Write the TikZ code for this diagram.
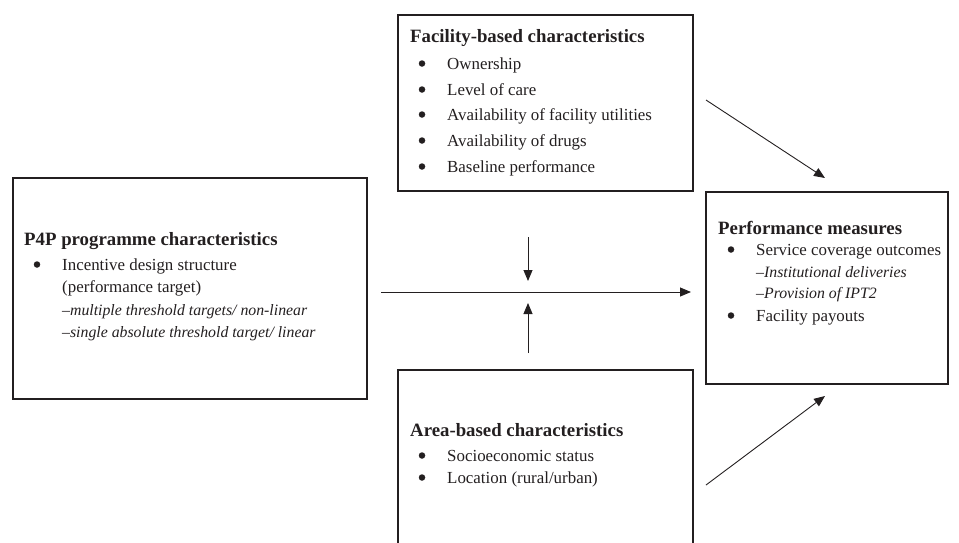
\documentclass[tikz,border=0pt]{standalone}
\usepackage{fontspec}
\setmainfont{Liberation Serif}
\usetikzlibrary{arrows.meta}
\definecolor{ink}{HTML}{231F20}
\tikzset{
  box/.style={draw=ink, line width=1.5pt, inner sep=0pt, anchor=north west},
  ttl/.style={anchor=base west, inner sep=0pt, text=ink, font=\fontsize{18.8}{22}\selectfont\bfseries},
  txt/.style={anchor=base west, inner sep=0pt, text=ink, font=\fontsize{16.9}{20}\selectfont},
  sub/.style={anchor=base west, inner sep=0pt, text=ink, font=\fontsize{15.8}{19}\selectfont\itshape},
  bul/.style={circle, fill=ink, inner sep=0pt, minimum size=6.5pt},
  arr/.style={draw=ink, line width=0.9pt, -{Triangle[length=11pt,width=9pt]}}
}
\begin{document}
\begin{tikzpicture}[x=1pt,y=-1pt]
\useasboundingbox (0,0) rectangle (959,542);
\clip (0,0) rectangle (959,542);
% boxes
\node[box, minimum width=354pt, minimum height=221pt] (p4p) at (12,177) {};
\node[box, minimum width=295pt, minimum height=176pt] (fac) at (397,14) {};
\node[box, minimum width=242pt, minimum height=192pt] (perf) at (705,191) {};
\node[box, minimum width=295pt, minimum height=200pt] (area) at (397,369) {};
% P4P text
\node[ttl] (p4pt) at (24,245) {P4P programme characteristics};
\node[bul] (p4pb1) at (37,264.5) {};
\node[txt] (p4p1) at (62,270) {Incentive design structure};
\node[txt] (p4p2) at (62,292) {(performance target)};
\node[sub] (p4p3) at (62,315) {\textendash multiple threshold targets/ non-linear};
\node[sub] (p4p4) at (62,337) {\textendash single absolute threshold target/ linear};
% Facility text
\node[ttl] (fact) at (410,42) {Facility-based characteristics};
\node[bul] (facb1) at (422,63.5) {};
\node[txt] (fac1) at (447,69) {Ownership};
\node[bul] (facb2) at (422,89.5) {};
\node[txt] (fac2) at (447,95) {Level of care};
\node[bul] (facb3) at (422,114.5) {};
\node[txt] (fac3) at (447,120) {Availability of facility utilities};
\node[bul] (facb4) at (422,140.5) {};
\node[txt] (fac4) at (447,146) {Availability of drugs};
\node[bul] (facb5) at (422,166.5) {};
\node[txt] (fac5) at (447,172) {Baseline performance};
% Performance text
\node[ttl] (perft) at (718,234) {Performance measures};
\node[bul] (perfb1) at (731,249.5) {};
\node[txt] (perf1) at (756,255) {Service coverage outcomes};
\node[sub] (perf2) at (756,277) {\textendash Institutional deliveries};
\node[sub] (perf3) at (756,298) {\textendash Provision of IPT2};
\node[bul] (perfb4) at (731,315.5) {};
\node[txt] (perf4) at (756,321) {Facility payouts};
% Area text
\node[ttl] (areat) at (410,436) {Area-based characteristics};
\node[bul] (areab1) at (422,455.5) {};
\node[txt] (area1) at (447,461) {Socioeconomic status};
\node[bul] (areab2) at (422,477.5) {};
\node[txt] (area2) at (447,483) {Location (rural/urban)};
% connector ends
\coordinate (hs) at (381,292);
\coordinate (he) at (691,292);
\coordinate (ds) at (528,237);
\coordinate (de) at (528,281);
\coordinate (us) at (528,353);
\coordinate (ue) at (528,303);
\coordinate (t1) at (706,100);
\coordinate (t2) at (825,178);
\coordinate (b1) at (706,485);
\coordinate (b2) at (825,396);
\draw[arr] (hs) -- (he);
\draw[arr] (ds) -- (de);
\draw[arr] (us) -- (ue);
\draw[arr] (t1) -- (t2);
\draw[arr] (b1) -- (b2);
\end{tikzpicture}
\end{document}
